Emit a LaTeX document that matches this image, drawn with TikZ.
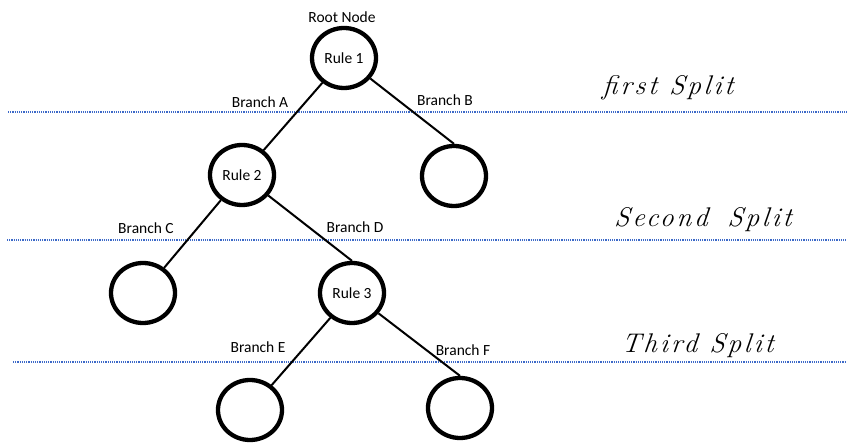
\documentclass[tikz,border=0pt]{standalone}
\usepackage{fontspec}
\setmainfont{Carlito}
\newfontfamily\handfont[LetterSpace=11,FakeSlant=0.1]{Latin Modern Roman}
\usetikzlibrary{shapes.geometric}
\definecolor{splitblue}{RGB}{60,105,200}
\begin{document}
\begin{tikzpicture}[x=1pt,y=-1pt,
  treenode/.style={ellipse,draw=black,line width=4.3pt,minimum width=64pt,minimum height=60pt,inner sep=0pt,font=\fontsize{15.5}{18}\selectfont},
  branch/.style={line width=2pt,draw=black},
  lbl/.style={anchor=base,inner sep=0pt,font=\fontsize{15.5}{18}\selectfont},
  splitline/.style={draw=splitblue,line width=1.1pt,dash pattern=on 1.1pt off 1.1pt},
  hand/.style={anchor=base west,inner sep=0pt,font=\handfont\itshape\fontsize{27}{30}\selectfont}]
\useasboundingbox (0,0) rectangle (847,443);

% split levels
\coordinate (s1a) at (8,112);   \coordinate (s1b) at (847,112);
\coordinate (s2a) at (7,240);   \coordinate (s2b) at (847,240);
\coordinate (s3a) at (13,362);  \coordinate (s3b) at (847,362);
\draw[splitline] (s1a) -- (s1b);
\draw[splitline] (s2a) -- (s2b);
\draw[splitline] (s3a) -- (s3b);

% decision nodes and leaves
\node[treenode] (r1) at (344,58)  {Rule 1};
\node[treenode] (r2) at (242,175) {Rule 2};
\node[treenode] (lb) at (454,176) {};
\node[treenode] (lc) at (143,293) {};
\node[treenode] (r3) at (352,293) {Rule 3};
\node[treenode] (le) at (250,410) {};
\node[treenode] (lf) at (460,408) {};

% branches
\draw[branch] (r1) -- (r2);
\draw[branch] (r1) -- (lb.north);
\draw[branch] (r2) -- (lc);
\draw[branch] (r2) -- (r3.north);
\draw[branch] (r3) -- (le);
\draw[branch] (r3) -- (lf.north);

% labels
\node[lbl] (root) at (342,23)  {Root Node};
\node[lbl] (ba)   at (260,108) {Branch A};
\node[lbl] (bb)   at (445,106) {Branch B};
\node[lbl] (bc)   at (146,234) {Branch C};
\node[lbl] (bd)   at (355,233) {Branch D};
\node[lbl] (be)   at (258,353) {Branch E};
\node[lbl] (bf)   at (463,356) {Branch F};

% split captions
\node[hand] (t1) at (602,95)  {first Split};
\node[hand] (t2) at (614,227) {Second\hspace{20pt}Split};
\node[hand] (t3) at (621,353) {Third Split};
\end{tikzpicture}
\end{document}
